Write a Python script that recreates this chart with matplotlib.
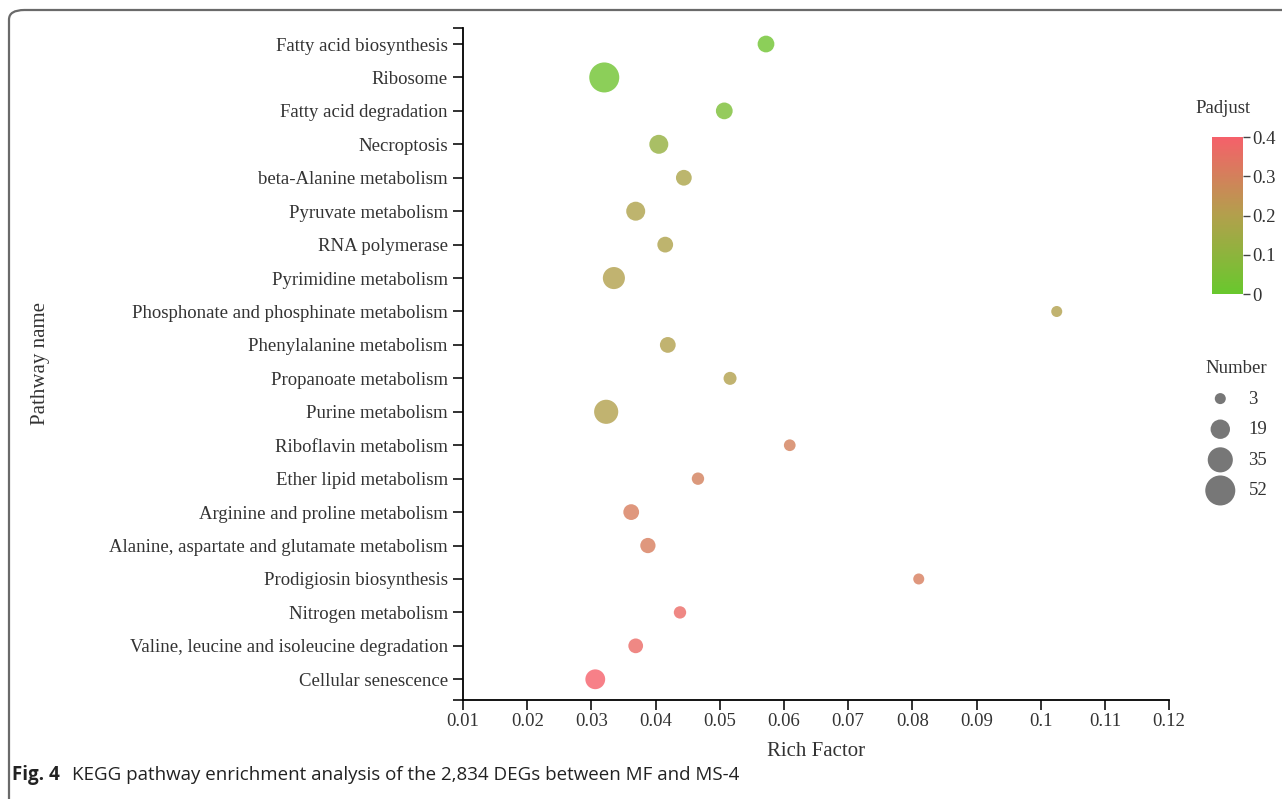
import numpy as np
import matplotlib
matplotlib.use("Agg")
import matplotlib.pyplot as plt
from matplotlib.colors import LinearSegmentedColormap, Normalize
from matplotlib.patches import FancyBboxPatch
from matplotlib.ticker import FuncFormatter, FixedLocator

# ------------------------------------------------------------
# data (top to bottom as shown)
pathways = [
    "Fatty acid biosynthesis",
    "Ribosome",
    "Fatty acid degradation",
    "Necroptosis",
    "beta-Alanine metabolism",
    "Pyruvate metabolism",
    "RNA polymerase",
    "Pyrimidine metabolism",
    "Phosphonate and phosphinate metabolism",
    "Phenylalanine metabolism",
    "Propanoate metabolism",
    "Purine metabolism",
    "Riboflavin metabolism",
    "Ether lipid metabolism",
    "Arginine and proline metabolism",
    "Alanine, aspartate and glutamate metabolism",
    "Prodigiosin biosynthesis",
    "Nitrogen metabolism",
    "Valine, leucine and isoleucine degradation",
    "Cellular senescence",
]
rich_factor = [0.0572, 0.0320, 0.0507, 0.0405, 0.0444, 0.0369, 0.0415, 0.0335,
               0.1025, 0.0419, 0.0516, 0.0323, 0.0609, 0.0466, 0.0362, 0.0388,
               0.0810, 0.0438, 0.0369, 0.0306]
number = [13, 52, 13, 18, 11, 18, 11, 26, 3, 11, 6, 32, 4, 5, 11, 10, 3, 5, 9, 20]
padjust = [0.02, 0.02, 0.05, 0.12, 0.18, 0.19, 0.19, 0.20, 0.20, 0.20, 0.20, 0.20,
           0.30, 0.30, 0.31, 0.31, 0.31, 0.37, 0.37, 0.40]
legend_numbers = [3, 19, 35, 52]
xticks = [0.01, 0.02, 0.03, 0.04, 0.05, 0.06, 0.07, 0.08, 0.09, 0.10, 0.11, 0.12]
cbar_ticks = [0, 0.1, 0.2, 0.3, 0.4]

# ------------------------------------------------------------
def size_of(n):
    # marker area (pt^2), linear in gene number
    return 63 + 8.25 * (np.asarray(n) - 3)

serif = ["Liberation Serif", "DejaVu Serif"]
plt.rcParams["font.family"] = serif
plt.rcParams["axes.linewidth"] = 1.3

cmap = LinearSegmentedColormap.from_list("padj", ["#68C82D", "#B2A04C", "#F5606A"])
norm = Normalize(vmin=0, vmax=0.4)

fig = plt.figure(figsize=(12.82, 7.99), dpi=100)
ax = fig.add_axes([0.3612, 0.1239, 0.5507, 0.8411])

ypos = np.arange(len(pathways))
ax.scatter(rich_factor, ypos, s=size_of(number), c=padjust, cmap=cmap, norm=norm,
           alpha=0.8, edgecolors="none", zorder=3)

# --- axes
ax.set_xlim(0.01, 0.12)
ax.set_ylim(19.62, -0.48)
ax.set_xticks(xticks)
ax.xaxis.set_major_formatter(FuncFormatter(lambda v, p: "%g" % round(v, 2)))
ax.set_yticks(ypos)
ax.set_yticklabels(pathways)
ax.yaxis.set_minor_locator(FixedLocator([-0.48, 19.62]))
ax.tick_params(axis="both", which="major", labelsize=13.5, length=7, width=1.3,
               colors="#222222", labelcolor="#333333", pad=4)
ax.tick_params(axis="x", which="major", pad=2)
ax.tick_params(axis="y", which="minor", length=7, width=1.3, color="#222222")
ax.spines["top"].set_visible(False)
ax.spines["right"].set_visible(False)
ax.set_xlabel("Rich Factor", fontsize=15, color="#333333", labelpad=9)
ax.set_ylabel("Pathway name", fontsize=15, color="#333333")
ax.yaxis.set_label_coords(-0.585, 0.5)

# --- colorbar
cax = fig.add_axes([0.9454, 0.632, 0.0242, 0.1965])
sm = plt.cm.ScalarMappable(cmap=cmap, norm=norm)
cb = fig.colorbar(sm, cax=cax, ticks=cbar_ticks)
cb.outline.set_visible(False)
cb.ax.yaxis.set_major_formatter(FuncFormatter(lambda v, p: "%g" % round(v, 1)))
cb.ax.tick_params(labelsize=13.5, length=5, width=1, color="#444444",
                  labelcolor="#333333", pad=2)
fig.text(0.954, 0.858, "Padjust", fontsize=13.5, color="#333333", ha="center")

# --- size legend
handles = [ax.scatter([], [], s=size_of(n), color="#777777", edgecolors="none")
           for n in legend_numbers]
leg = fig.legend(handles, [str(n) for n in legend_numbers], title="Number",
                 loc="upper left", bbox_to_anchor=(0.927, 0.566), frameon=False,
                 fontsize=13.5, title_fontsize=13.5, labelspacing=0.72,
                 handletextpad=0.5, borderpad=0.2, alignment="right")
leg.get_title().set_color("#333333")
for t in leg.get_texts():
    t.set_color("#333333")

# --- frame and caption
box = FancyBboxPatch((9 / 1282, -0.2), 1.2, 1 - 10 / 799 + 0.2,
                     boxstyle="round,pad=0,rounding_size=0.012",
                     transform=fig.transFigure, fill=False,
                     edgecolor="#6a6a6a", linewidth=1.6, zorder=0)
fig.patches.append(box)
fig.text(0.0095, 0.024, "Fig. 4", fontsize=13.5, fontweight="bold",
         family=["Open Sans", "DejaVu Sans"], color="#222222")
fig.text(0.056, 0.024, "KEGG pathway enrichment analysis of the 2,834 DEGs between MF and MS-4",
         fontsize=13.5, family=["Open Sans", "DejaVu Sans"], color="#222222")

fig.savefig("out.png", dpi=100)
